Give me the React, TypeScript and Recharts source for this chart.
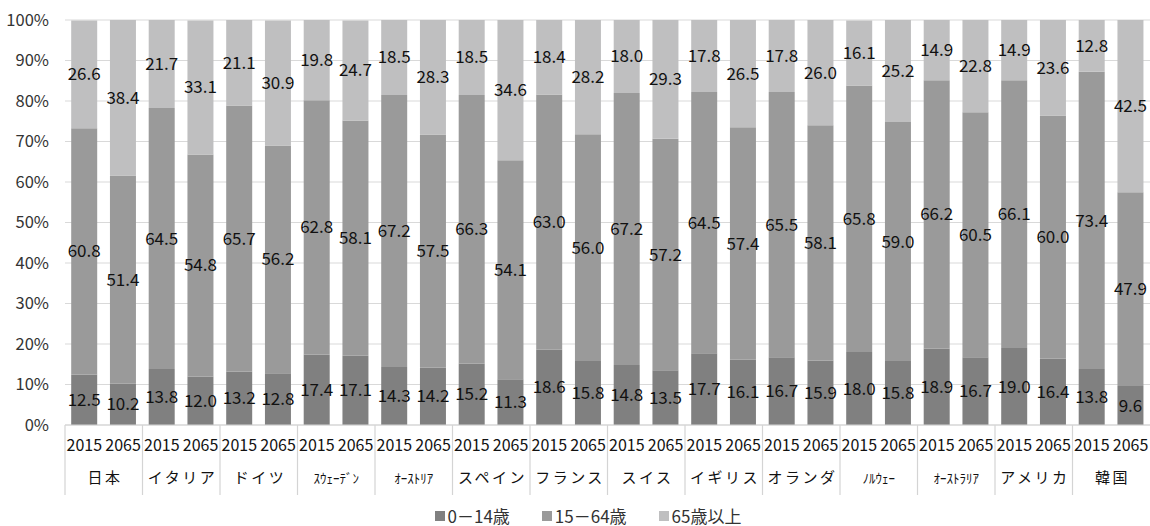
import React from 'react';
import { BarChart, Bar, XAxis, YAxis, CartesianGrid, LabelList, Legend } from 'recharts';

const countries = ['日本', 'イタリア', 'ドイツ', 'ｽｳｪｰﾃﾞﾝ', 'ｵｰｽﾄﾘｱ', 'スペイン', 'フランス', 'スイス', 'イギリス', 'オランダ', 'ﾉﾙｳｪｰ', 'ｵｰｽﾄﾗﾘｱ', 'アメリカ', '韓国'];
const halfWidth = [false, false, false, true, true, false, false, false, false, false, true, true, false, false];
const years = ['2015', '2065'];

// 0-14歳 (2015, 2065 per country)
const young = [12.5, 10.2, 13.8, 12.0, 13.2, 12.8, 17.4, 17.1, 14.3, 14.2, 15.2, 11.3, 18.6, 15.8, 14.8, 13.5, 17.7, 16.1, 16.7, 15.9, 18.0, 15.8, 18.9, 16.7, 19.0, 16.4, 13.8, 9.6];
// 15-64歳
const working = [60.8, 51.4, 64.5, 54.8, 65.7, 56.2, 62.8, 58.1, 67.2, 57.5, 66.3, 54.1, 63.0, 56.0, 67.2, 57.2, 64.5, 57.4, 65.5, 58.1, 65.8, 59.0, 66.2, 60.5, 66.1, 60.0, 73.4, 47.9];
// 65歳以上
const elderly = [26.6, 38.4, 21.7, 33.1, 21.1, 30.9, 19.8, 24.7, 18.5, 28.3, 18.5, 34.6, 18.4, 28.2, 18.0, 29.3, 17.8, 26.5, 17.8, 26.0, 16.1, 25.2, 14.9, 22.8, 14.9, 23.6, 12.8, 42.5];

const yTicks = [0, 10, 20, 30, 40, 50, 60, 70, 80, 90, 100];

const seriesNames = ['0－14歳', '15－64歳', '65歳以上'];
const colors = ['#808080', '#9a9a9a', '#bfbfc0'];

const data = countries.flatMap((c, i) =>
  years.map((y, j) => ({
    key: `${c}-${y}`,
    country: c,
    half: halfWidth[i],
    year: y,
    young: young[i * 2 + j],
    working: working[i * 2 + j],
    elderly: elderly[i * 2 + j],
  }))
);

const FONT = '"Noto Sans CJK JP", "Noto Sans", sans-serif';
const PLOT_W = 1085;
const TXT = '#111111';

const XTick = (props: any) => {
  const { x, y, payload } = props;
  const idx = payload.index ?? props.index;
  const d = data[idx];
  if (!d) return null;
  const half = payload.offset && payload.offset > 0 ? payload.offset : PLOT_W / data.length / 2;
  const first = idx % 2 === 0;
  return (
    <g>
      <text x={x} y={y + 26} textAnchor="middle" fontSize={16} fill={TXT} fontFamily={FONT}>
        {d.year}
      </text>
      {first && (
        <line x1={x - half} x2={x - half} y1={y} y2={y + 70} stroke="#d4d4d4" strokeWidth={1.2} />
      )}
      {first && (
        <text
          x={x + half + (d.half ? 0 : 1.25)}
          y={y + 58}
          textAnchor="middle"
          fontSize={d.half ? 13 : 15}
          letterSpacing={d.half ? 0 : 2.5}
          fill={TXT}
          fontFamily={FONT}
        >
          {d.country}
        </text>
      )}
    </g>
  );
};

const LegendContent = () => (
  <div
    style={{
      display: 'flex',
      justifyContent: 'center',
      alignItems: 'center',
      paddingLeft: 26,
      fontFamily: FONT,
      fontSize: 17,
      color: '#333333',
      height: 20,
      lineHeight: '20px',
    }}
  >
    {seriesNames.map((n, i) => (
      <span key={n} style={{ display: 'flex', alignItems: 'center', marginRight: i < 2 ? 32 : 0 }}>
        <span style={{ display: 'inline-block', width: 10, height: 10, background: colors[i], marginRight: 3 }} />
        {n}
      </span>
    ))}
  </div>
);

const fmt = (v: any) => Number(v).toFixed(1);

export default function App() {
  return (
    <div style={{ position: 'absolute', left: 0, top: 0, width: 1150, height: 526, background: '#fff' }}>
      <BarChart
        width={1150}
        height={526}
        data={data}
        margin={{ top: 20, right: 0, bottom: 0, left: 0 }}
        barCategoryGap="16%"
        style={{ fontFamily: FONT }}
      >
        <CartesianGrid vertical={false} stroke="#d9d9d9" strokeWidth={1.2} />
        <XAxis
          dataKey="key"
          interval={0}
          tickLine={false}
          axisLine={{ stroke: '#d4d4d4', strokeWidth: 1.2 }}
          tickSize={0}
          tickMargin={0}
          height={81}
          tick={<XTick />}
        />
        <YAxis
          width={65}
          domain={[0, 100]}
          ticks={yTicks}
          tickFormatter={(v: number) => `${v}%`}
          axisLine={false}
          tickLine={false}
          tickSize={6}
          tickMargin={10}
          tick={{ fontSize: 16.5, fill: '#333333', fontFamily: FONT }}
        />
        <Legend verticalAlign="bottom" height={20} content={<LegendContent />} />
        <Bar dataKey="young" name={seriesNames[0]} stackId="a" fill={colors[0]} isAnimationActive={false}>
          <LabelList dataKey="young" position="center" formatter={fmt} fill={TXT} fontSize={17} fontFamily={FONT} />
        </Bar>
        <Bar dataKey="working" name={seriesNames[1]} stackId="a" fill={colors[1]} isAnimationActive={false}>
          <LabelList dataKey="working" position="center" formatter={fmt} fill={TXT} fontSize={17} fontFamily={FONT} />
        </Bar>
        <Bar dataKey="elderly" name={seriesNames[2]} stackId="a" fill={colors[2]} isAnimationActive={false}>
          <LabelList dataKey="elderly" position="center" formatter={fmt} fill={TXT} fontSize={17} fontFamily={FONT} />
        </Bar>
      </BarChart>
    </div>
  );
}
